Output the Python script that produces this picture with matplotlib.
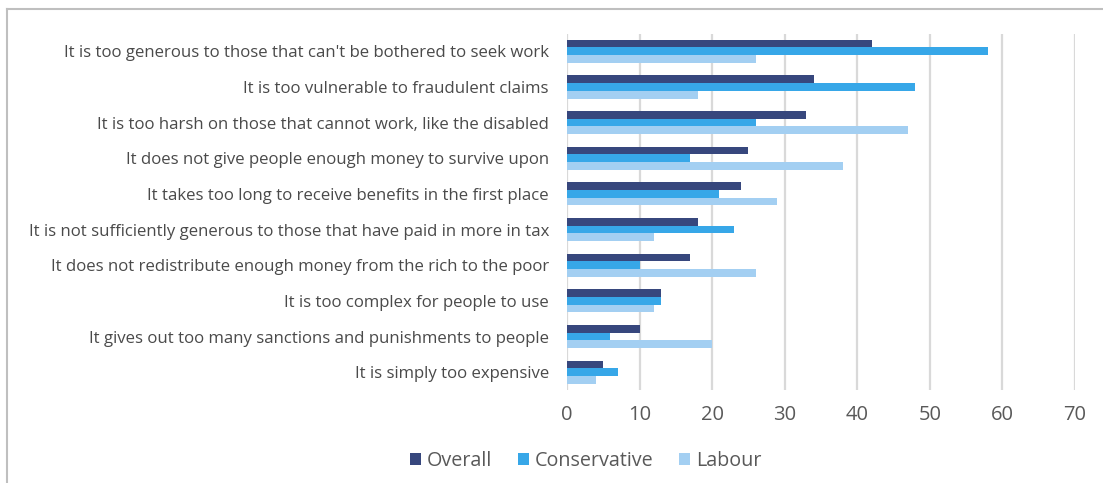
import numpy as np
import matplotlib.pyplot as plt
from matplotlib.lines import Line2D

plt.rcParams['font.family'] = ['Open Sans', 'DejaVu Sans']

statements = [
    "It is too generous to those that can't be bothered to seek work",
    "It is too vulnerable to fraudulent claims",
    "It is too harsh on those that cannot work, like the disabled",
    "It does not give people enough money to survive upon",
    "It takes too long to receive benefits in the first place",
    "It is not sufficiently generous to those that have paid in more in tax",
    "It does not redistribute enough money from the rich to the poor",
    "It is too complex for people to use",
    "It gives out too many sanctions and punishments to people",
    "It is simply too expensive",
]
overall = [42, 34, 33, 25, 24, 18, 17, 13, 10, 5]
conservative = [58, 48, 26, 17, 21, 23, 10, 13, 6, 7]
labour = [26, 18, 47, 38, 29, 12, 26, 12, 20, 4]

series = [("Overall", overall, "#37477d"),
          ("Conservative", conservative, "#37a7e8"),
          ("Labour", labour, "#a3cff2")]

fig = plt.figure(figsize=(11.03, 4.83), dpi=100)
ax = fig.add_axes([0.514, 0.1925, 0.4606, 0.7381])

y = np.arange(len(statements))
h = 0.216
for i, (name, vals, col) in enumerate(series):
    ax.barh(y + (i - 1) * h, vals, height=h, color=col, label=name, zorder=3)

ax.set_xlim(0, 70)
ax.set_ylim(len(statements) - 0.5, -0.5)
ax.set_xticks(range(0, 71, 10))
ax.set_yticks(y)
ax.set_yticklabels(statements, fontsize=12.1, color="#4a4a4a")
ax.tick_params(axis='x', labelsize=14.5, labelcolor="#595959", length=0, pad=11)
ax.tick_params(axis='y', length=0, pad=13)
ax.grid(axis='x', color="#d9d9d9", linewidth=1.6, zorder=0)
for s in ax.spines.values():
    s.set_visible(False)

leg = fig.legend(loc='center', bbox_to_anchor=(0.531, 0.045), ncol=3, frameon=False,
                 fontsize=14.2, handlelength=0.55, handleheight=0.55, handletextpad=0.3,
                 columnspacing=1.3)
for t in leg.get_texts():
    t.set_color("#595959")

# thin outline along the top and left edges
fig.add_artist(Line2D([0.0065, 1.0], [0.982, 0.982], color="#bfbfbf", linewidth=1.5))
fig.add_artist(Line2D([0.0065, 0.0065], [0.0, 0.982], color="#bfbfbf", linewidth=1.5))

fig.savefig("out.png", dpi=100)
